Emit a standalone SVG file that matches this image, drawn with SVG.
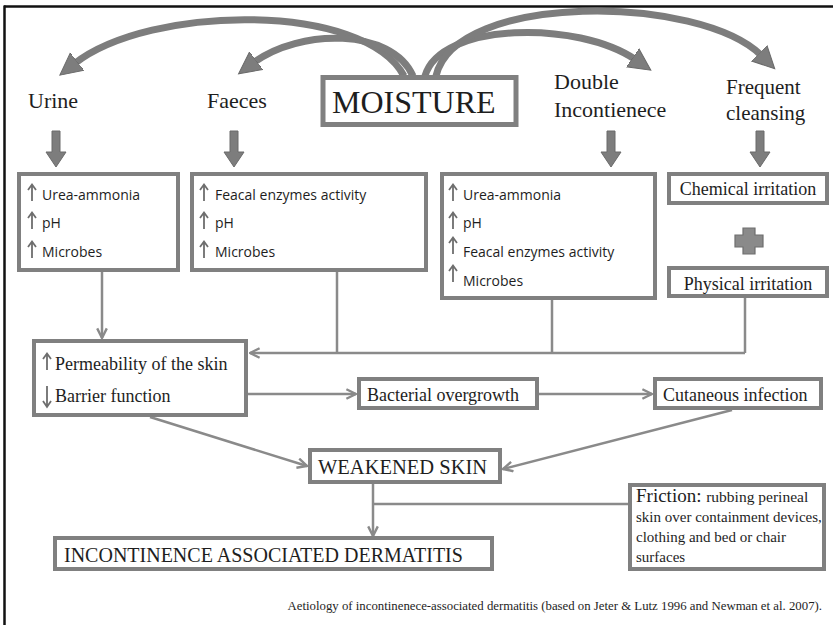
<svg xmlns="http://www.w3.org/2000/svg" width="833" height="625" viewBox="0 0 833 625">
<style>
.box{fill:#fff;stroke:#808080;stroke-width:4}
.ser{font-family:"Liberation Serif","Times New Roman",serif;fill:#1e1e1e}
.sans{font-family:"Open Sans","Noto Sans",sans-serif;font-size:14px;fill:#1e1e1e}
.con{fill:none;stroke:#8a8a8a;stroke-width:2.5}
.arc{fill:none;stroke:#7d7d7d;stroke-width:7;stroke-linecap:butt}
.blk{fill:#7d7d7d;stroke:#6a6a6a;stroke-width:1}
.sm{fill:none;stroke:#6e6e6e;stroke-width:1.8}
</style>
<defs>
<marker id="ah" markerUnits="userSpaceOnUse" markerWidth="12" markerHeight="12" refX="9" refY="5" orient="auto" viewBox="0 0 10 10">
<path d="M1,1 L9,5 L1,9" fill="none" stroke="#8a8a8a" stroke-width="2"/>
</marker>
<marker id="big" markerUnits="userSpaceOnUse" markerWidth="24" markerHeight="26" refX="4" refY="13" orient="auto" viewBox="0 0 24 26">
<path d="M0,2 L22,13 L0,24 Z" fill="#7d7d7d" stroke="#6a6a6a" stroke-width="1"/>
</marker>
<path id="up" class="sm" d="M0,17 V1 M-4,6 L0,0.5 L4,6"/>
<path id="dn" class="sm" d="M0,0 V21 M-4,15 L0,21 L4,15"/>
<path id="bdown" class="blk" d="M-4,0 h8 v21 h6 l-10,15 l-10,-15 h6 z"/>
</defs>
<rect width="833" height="625" fill="#fff"/>
<line x1="4" y1="6.5" x2="833" y2="6.5" stroke="#111" stroke-width="2.5"/>
<line x1="4.5" y1="5.5" x2="4.5" y2="625" stroke="#111" stroke-width="2.5"/>

<g id="connectors">
<path class="arc" marker-end="url(#big)" d="M404,76 C365,2 150,4 74,64"/>
<path class="arc" marker-end="url(#big)" d="M413,76 C392,28 300,28 253,63"/>
<path class="arc" marker-end="url(#big)" d="M425,76 C440,22 578,20 636,60"/>
<path class="arc" marker-end="url(#big)" d="M436,76 C455,-8 700,-6 762,56"/>
<use href="#bdown" x="56" y="131"/>
<use href="#bdown" x="234" y="131"/>
<use href="#bdown" x="611" y="131"/>
<use href="#bdown" x="760" y="131"/>
<path class="con" marker-end="url(#ah)" d="M102,272 V338"/>
<path class="con" d="M337,272 V353 M552,300 V353 M745,298 V353"/>
<path class="con" marker-end="url(#ah)" d="M745,353 H250"/>
<path class="con" marker-end="url(#ah)" d="M248,394 H356"/>
<path class="con" marker-end="url(#ah)" d="M539,394 H652"/>
<path class="con" marker-end="url(#ah)" d="M150,417 L307,466"/>
<path class="con" marker-end="url(#ah)" d="M732,410 L503,469"/>
<path class="con" marker-end="url(#ah)" d="M373,484 V536"/>
<path class="con" d="M373,504 H628"/>
<path d="M743,228 h12 v7 h8 v12 h-8 v7 h-12 v-7 h-8 v-12 h8 z" fill="#8a8a8a" stroke="#6e6e6e" stroke-width="1.2"/>
</g>

<g id="moisture">
<rect x="323" y="77.5" width="193" height="47" fill="#fff" stroke="#808080" stroke-width="5"/>
<text class="ser" x="332" y="113" font-size="32">MOISTURE</text>
</g>
<g id="urine"><text class="ser" x="28" y="108" font-size="22">Urine</text></g>
<g id="faeces"><text class="ser" x="207" y="108" font-size="22">Faeces</text></g>
<g id="double"><text class="ser" x="554" y="89" font-size="22">Double</text><text class="ser" x="554" y="117" font-size="22">Incontienece</text></g>
<g id="frequent"><text class="ser" x="726" y="94" font-size="21">Frequent</text><text class="ser" x="726" y="120" font-size="21">cleansing</text></g>

<g id="box-urine">
<rect class="box" x="19" y="174" width="159" height="96"/>
<use href="#up" x="32" y="184"/><use href="#up" x="32" y="212"/><use href="#up" x="32" y="241"/>
<text class="sans" x="42" y="200">Urea-ammonia</text>
<text class="sans" x="42" y="228">pH</text>
<text class="sans" x="42" y="257">Microbes</text>
</g>
<g id="box-faeces">
<rect class="box" x="192" y="174" width="234" height="96"/>
<use href="#up" x="204" y="184"/><use href="#up" x="204" y="212"/><use href="#up" x="204" y="241"/>
<text class="sans" x="215" y="200">Feacal enzymes activity</text>
<text class="sans" x="215" y="228">pH</text>
<text class="sans" x="215" y="257">Microbes</text>
</g>
<g id="box-double">
<rect class="box" x="442" y="174" width="213" height="124"/>
<use href="#up" x="453" y="184"/><use href="#up" x="453" y="212"/><use href="#up" x="453" y="237"/><use href="#up" x="453" y="265"/>
<text class="sans" x="463" y="200">Urea-ammonia</text>
<text class="sans" x="463" y="228">pH</text>
<text class="sans" x="463" y="257">Feacal enzymes activity</text>
<text class="sans" x="463" y="286">Microbes</text>
</g>
<g id="chemical">
<rect class="box" x="669" y="174" width="158" height="29"/>
<text class="ser" x="748" y="195" font-size="18" text-anchor="middle">Chemical irritation</text>
</g>
<g id="physical">
<rect class="box" x="669" y="268" width="158" height="28"/>
<text class="ser" x="748" y="290" font-size="18" text-anchor="middle">Physical irritation</text>
</g>
<g id="permeability">
<rect class="box" x="34" y="341" width="212" height="74"/>
<use href="#up" x="47" y="353"/>
<use href="#dn" x="47" y="386"/>
<text class="ser" x="55" y="370" font-size="18">Permeability of the skin</text>
<text class="ser" x="55" y="402" font-size="18">Barrier function</text>
</g>
<g id="bacterial">
<rect class="box" x="359" y="379" width="178" height="29"/>
<text class="ser" x="367" y="401" font-size="18">Bacterial overgrowth</text>
</g>
<g id="cutaneous">
<rect class="box" x="655" y="379" width="166" height="29"/>
<text class="ser" x="663" y="401" font-size="18">Cutaneous infection</text>
</g>
<g id="weakened">
<rect class="box" x="310" y="450" width="190" height="32"/>
<text class="ser" x="318" y="474" font-size="20.5">WEAKENED SKIN</text>
</g>
<g id="iad">
<rect class="box" x="55" y="538" width="437" height="31"/>
<text class="ser" x="64" y="562" font-size="20">INCONTINENCE ASSOCIATED DERMATITIS</text>
</g>
<g id="friction">
<rect class="box" x="630" y="485" width="194" height="84"/>
<text class="ser" x="636" y="502" font-size="19">Friction: <tspan font-size="15.5">rubbing perineal</tspan></text>
<text class="ser" x="636" y="522" font-size="15">skin over containment devices,</text>
<text class="ser" x="636" y="542" font-size="15">clothing and bed or chair</text>
<text class="ser" x="636" y="562" font-size="15">surfaces</text>
</g>
<g id="caption">
<text class="ser" x="822" y="610" font-size="12.8" text-anchor="end">Aetiology of incontinenece-associated dermatitis (based on Jeter &amp; Lutz 1996 and Newman et al. 2007).</text>
</g>
</svg>
